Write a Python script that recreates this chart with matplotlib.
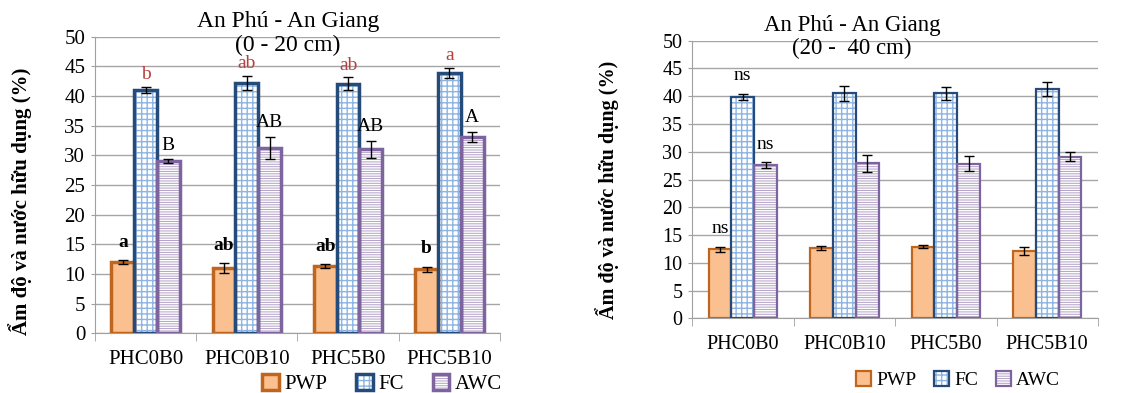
import numpy as np
import matplotlib.pyplot as plt
from matplotlib.legend_handler import HandlerTuple

plt.rcParams['font.family'] = ['Liberation Serif', 'DejaVu Serif']

treatments = ['PHC0B0', 'PHC0B10', 'PHC5B0', 'PHC5B10']
series = ['PWP', 'FC', 'AWC']

# 0 - 20 cm
pwp_top = [12.0, 11.0, 11.3, 10.8]
pwp_top_err = [0.35, 0.8, 0.3, 0.45]
fc_top = [41.0, 42.2, 42.1, 43.9]
fc_top_err = [0.55, 1.2, 1.05, 0.9]
awc_top = [29.0, 31.2, 31.0, 33.1]
awc_top_err = [0.3, 1.85, 1.4, 0.85]
pwp_top_lbl = ['a', 'ab', 'ab', 'b']
fc_top_lbl = ['b', 'ab', 'ab', 'a']
awc_top_lbl = ['B', 'AB', 'AB', 'A']

# 20 - 40 cm
pwp_sub = [12.4, 12.6, 12.9, 12.1]
pwp_sub_err = [0.5, 0.35, 0.3, 0.7]
fc_sub = [39.9, 40.5, 40.5, 41.3]
fc_sub_err = [0.5, 1.35, 1.2, 1.2]
awc_sub = [27.6, 27.9, 27.8, 29.1]
awc_sub_err = [0.6, 1.6, 1.35, 0.85]
pwp_sub_lbl = ['ns', '', '', '']
fc_sub_lbl = ['ns', '', '', '']
awc_sub_lbl = ['ns', '', '', '']

# style: face, hatch, hatch colour, edge
styles = {
    'PWP': ('#FAC090', None, '#FAC090', '#C0651E'),
    'FC': ('white', '+++', '#8DB4E2', '#254B7A'),
    'AWC': ('#B3A2C7', '-------', 'white', '#7E649E'),
}

fig = plt.figure(figsize=(11.33, 3.93), dpi=100)
ax1 = fig.add_axes([0.0838, 0.1519, 0.3575, 0.7547])
ax2 = fig.add_axes([0.6108, 0.19, 0.3583, 0.7064])

x = np.arange(len(treatments))
w = 0.225


def draw_panel(ax, vals, errs, lbls, lbl_colors, lbl_weights, offsets, lw, fs_tick):
    handles = []
    for i, s in enumerate(series):
        face, hatch, hcol, edge = styles[s]
        pos = x + (i - 1) * w
        b1 = ax.bar(pos, vals[i], w, color=face, hatch=hatch, edgecolor=hcol,
                    linewidth=0, zorder=2)
        b2 = ax.bar(pos, vals[i], w, fill=False, edgecolor=edge, linewidth=lw,
                    zorder=3)
        ax.errorbar(pos, vals[i], yerr=errs[i], fmt='none', ecolor='black',
                    elinewidth=1, capsize=3.5, capthick=1, zorder=4)
        for p, v, e, t in zip(pos, vals[i], errs[i], lbls[i]):
            ax.text(p, v + e + offsets[i], t, ha='center', va='bottom',
                    fontsize=14, color=lbl_colors[i], fontweight=lbl_weights[i])
        handles.append((b1.patches[0], b2.patches[0]))
    ax.set_xlim(-0.5, 3.5)
    ax.set_ylim(0, 50)
    ax.set_yticks(range(0, 51, 5))
    ax.set_xticks(x)
    ax.set_xticklabels(treatments)
    ax.set_xticks(np.arange(-0.5, 4, 1), minor=True)
    ax.tick_params(axis='x', which='major', length=0, pad=12, labelsize=fs_tick)
    ax.tick_params(axis='x', which='minor', length=6, color='#A0A0A0')
    ax.tick_params(axis='y', length=3, color='#A0A0A0', labelsize=fs_tick, pad=4)
    ax.grid(axis='y', color='#A6A6A6', linewidth=1, zorder=0)
    ax.set_axisbelow(True)
    for sp in ['top', 'right']:
        ax.spines[sp].set_visible(False)
    ax.spines['left'].set_color('#A0A0A0')
    ax.spines['bottom'].set_color('#A0A0A0')
    return handles


h1 = draw_panel(ax1, [pwp_top, fc_top, awc_top],
                [pwp_top_err, fc_top_err, awc_top_err],
                [pwp_top_lbl, fc_top_lbl, awc_top_lbl],
                ['black', '#B5403D', 'black'], ['bold', 'normal', 'normal'],
                [1.6, 0.6, 1.0], 2.5, 15)
h2 = draw_panel(ax2, [pwp_sub, fc_sub, awc_sub],
                [pwp_sub_err, fc_sub_err, awc_sub_err],
                [pwp_sub_lbl, fc_sub_lbl, awc_sub_lbl],
                ['black', 'black', 'black'], ['normal', 'normal', 'normal'],
                [1.8, 1.8, 1.6], 1.6, 14.5)

ylab = 'Ẩm độ và nước hữu dụng (%)'
fig.text(20 / 1133, 1 - 201 / 393, ylab, rotation=90, ha='center', va='center',
         fontsize=15, fontweight='bold')
fig.text(607 / 1133, 1 - 190 / 393, ylab, rotation=90, ha='center', va='center',
         fontsize=14.5, fontweight='bold')

fig.text(288 / 1133, 1 - 22 / 393, 'An Phú - An Giang', ha='center', va='center', fontsize=17)
fig.text(288 / 1133, 1 - 45 / 393, '(0 - 20 cm)', ha='center', va='center', fontsize=17)
fig.text(852 / 1133, 1 - 25 / 393, 'An Phú - An Giang', ha='center', va='center', fontsize=16.5)
fig.text(852 / 1133, 1 - 48 / 393, '(20 -  40 cm)', ha='center', va='center', fontsize=16.5)

fig.legend(h1, series, loc='center', bbox_to_anchor=(382 / 1133, 1 - 384 / 393),
           ncol=3, frameon=False, fontsize=15, handlelength=0.8, handleheight=0.8,
           handletextpad=0.25, columnspacing=1.4, borderpad=0,
           handler_map={tuple: HandlerTuple(ndivide=1)})
fig.legend(h2, series, loc='center', bbox_to_anchor=(958 / 1133, 1 - 380 / 393),
           ncol=3, frameon=False, fontsize=14, handlelength=0.8, handleheight=0.8,
           handletextpad=0.25, columnspacing=0.9, borderpad=0,
           handler_map={tuple: HandlerTuple(ndivide=1)})

plt.savefig('out.png', dpi=100)
